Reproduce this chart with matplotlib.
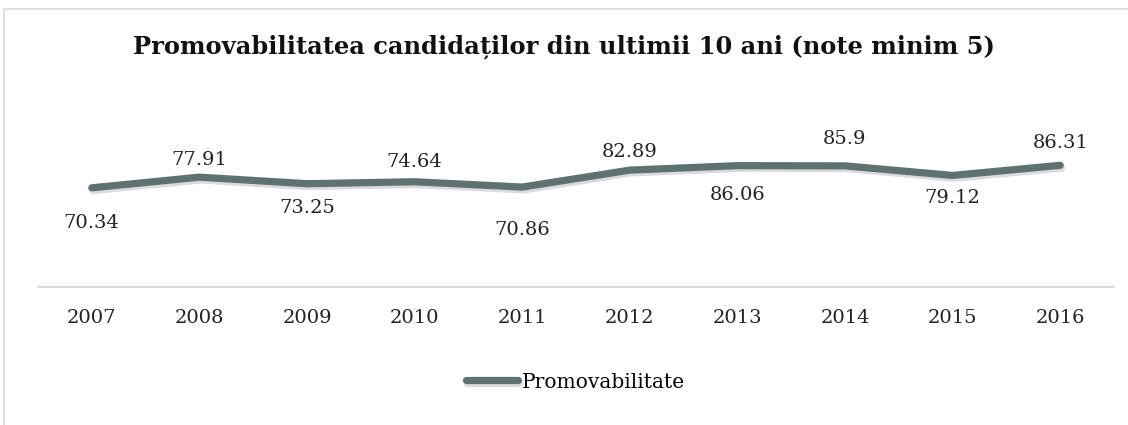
import matplotlib.pyplot as plt
import matplotlib.patheffects as pe
from matplotlib.patches import Rectangle

# date
ani = ['2007', '2008', '2009', '2010', '2011', '2012', '2013', '2014', '2015', '2016']
promovabilitate = [70.34, 77.91, 73.25, 74.64, 70.86, 82.89, 86.06, 85.9, 79.12, 86.31]

# deplasarea etichetelor (pixeli, + = in sus)
deplasare = [-35, 17, -24, 20, -43, 18, -29, 27, -23, 22]

plt.rcParams['font.family'] = ['DejaVu Serif']
W, H = 1128, 425
fig = plt.figure(figsize=(W / 100, H / 100), dpi=100)
fig.patches.append(Rectangle((4 / W, -0.1), 1.1, 1.1 - 9 / H, transform=fig.transFigure,
                             fill=False, edgecolor='#d9d9d9', linewidth=1.2))

ax = fig.add_axes([38 / W, (H - 287) / H, (1114 - 38) / W, (287 - 146) / H])
x = list(range(len(ani)))
ax.plot(x, promovabilitate, color='#5f7272', linewidth=5.2, solid_capstyle='round',
        solid_joinstyle='round', label='Promovabilitate',
        path_effects=[pe.SimpleLineShadow(offset=(1, -2), shadow_color='#888888', alpha=0.3),
                      pe.Normal()])

for i, v in enumerate(promovabilitate):
    ax.annotate(f'{v:g}', (x[i], v), xytext=(0, deplasare[i] * 0.72), textcoords='offset points',
                ha='center', va='center', fontsize=14, color='#222222')

ax.set_xlim(-0.5, len(ani) - 0.5)
ax.set_ylim(0, 100)
ax.set_xticks(x)
ax.set_xticklabels(ani, fontsize=14, color='#222222')
ax.tick_params(axis='x', length=0, pad=16)
ax.set_yticks([])
for s in ['top', 'right', 'left']:
    ax.spines[s].set_visible(False)
ax.spines['bottom'].set_color('#d9d9d9')
ax.spines['bottom'].set_linewidth(1.5)

fig.text(0.5, 1 - 47 / H, 'Promovabilitatea candidaților din ultimii 10 ani (note minim 5)',
         ha='center', va='center', fontsize=17.4, fontweight='bold', color='#111111')

fig.legend(loc='center', bbox_to_anchor=(0.51, 1 - 382 / H), frameon=False, fontsize=14.5,
           handlelength=2.6, handletextpad=0.2)

fig.savefig('out.png', dpi=100)
